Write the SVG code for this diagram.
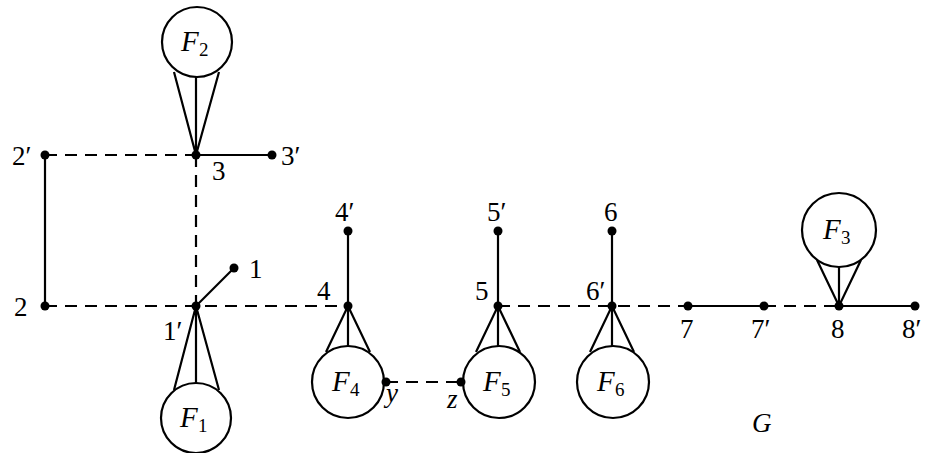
<svg xmlns="http://www.w3.org/2000/svg" width="928" height="453" viewBox="0 0 928 453">
<style>
.e{stroke:#000;stroke-width:2.2;fill:none}
.d{stroke:#000;stroke-width:2.2;fill:none;stroke-dasharray:12 8}
.v{fill:#000}
.i{font-style:italic}
.f{font-style:italic;font-size:29px}
.s{font-size:19px}
</style>
<rect width="928" height="453" fill="#fff"/>
<g id="connectors">
<line class="d" x1="45" y1="155" x2="196" y2="155"/>
<line class="e" x1="196" y1="155" x2="272" y2="155"/>
<line class="d" x1="196" y1="155" x2="196" y2="306"/>
<line class="e" x1="45" y1="155" x2="45" y2="306"/>
<line class="d" x1="45" y1="306" x2="348" y2="306"/>
<line class="e" x1="196" y1="306" x2="234" y2="268"/>
<line class="e" x1="348" y1="306" x2="348" y2="231"/>
<line class="e" x1="498" y1="306" x2="498" y2="231"/>
<line class="e" x1="612" y1="306" x2="612" y2="231"/>
<line class="d" x1="498" y1="306" x2="688" y2="306"/>
<line class="e" x1="688" y1="306" x2="764" y2="306"/>
<line class="d" x1="764" y1="306" x2="839" y2="306"/>
<line class="e" x1="839" y1="306" x2="915" y2="306"/>
<line class="d" x1="386" y1="382" x2="461" y2="382"/>
<path class="e" d="M174 72L196 155L219 72M196 77L196 155"/>
<path class="e" d="M174 390L196 306L219 390M196 384L196 306"/>
<path class="e" d="M326 352L348 306L370 352M348 346L348 306"/>
<path class="e" d="M476 352L498 306L520 352M498 346L498 306"/>
<path class="e" d="M590 352L612 306L634 352M612 346L612 306"/>
<path class="e" d="M817 260L839 306L861 260M839 267L839 306"/>
</g>
<g font-family="Liberation Serif, DejaVu Serif, serif" font-size="27px" fill="#000">
<g id="F2"><circle class="e" cx="197" cy="42" r="35"/><text class="f" x="181" y="51">F</text><text class="s" x="199" y="56">2</text></g>
<g id="F1"><circle class="e" cx="196" cy="418" r="35"/><text class="f" x="180" y="427">F</text><text class="s" x="198" y="432">1</text></g>
<g id="F4"><circle class="e" cx="348" cy="382" r="36"/><text class="f" x="332" y="391">F</text><text class="s" x="350" y="396">4</text></g>
<g id="F5"><circle class="e" cx="499" cy="382" r="36"/><text class="f" x="483" y="391">F</text><text class="s" x="501" y="396">5</text></g>
<g id="F6"><circle class="e" cx="613" cy="382" r="36"/><text class="f" x="597" y="391">F</text><text class="s" x="615" y="396">6</text></g>
<g id="F3"><circle class="e" cx="839" cy="230" r="37"/><text class="f" x="823" y="239">F</text><text class="s" x="841" y="244">3</text></g>
<g id="n2p"><circle class="v" cx="45" cy="155" r="4.5"/><text x="12" y="165">2′</text></g>
<g id="n3"><circle class="v" cx="196" cy="155" r="4.5"/><text x="212" y="180">3</text></g>
<g id="n3p"><circle class="v" cx="272" cy="155" r="4.5"/><text x="281" y="165">3′</text></g>
<g id="n1"><circle class="v" cx="234" cy="268" r="4.5"/><text x="249" y="278">1</text></g>
<g id="n2"><circle class="v" cx="45" cy="306" r="4.5"/><text x="14" y="316">2</text></g>
<g id="n1p"><circle class="v" cx="196" cy="306" r="4.5"/><text x="163" y="340">1′</text></g>
<g id="n4p"><circle class="v" cx="348" cy="231" r="4.5"/><text x="335" y="221">4′</text></g>
<g id="n4"><circle class="v" cx="348" cy="306" r="4.5"/><text x="317" y="300">4</text></g>
<g id="n5p"><circle class="v" cx="498" cy="231" r="4.5"/><text x="487" y="221">5′</text></g>
<g id="n5"><circle class="v" cx="498" cy="306" r="4.5"/><text x="475" y="300">5</text></g>
<g id="n6"><circle class="v" cx="612" cy="231" r="4.5"/><text x="604" y="221">6</text></g>
<g id="n6p"><circle class="v" cx="612" cy="306" r="4.5"/><text x="586" y="300">6′</text></g>
<g id="n7"><circle class="v" cx="688" cy="306" r="4.5"/><text x="680" y="338">7</text></g>
<g id="n7p"><circle class="v" cx="764" cy="306" r="4.5"/><text x="751" y="338">7′</text></g>
<g id="n8"><circle class="v" cx="839" cy="306" r="4.5"/><text x="831" y="338">8</text></g>
<g id="n8p"><circle class="v" cx="915" cy="306" r="4.5"/><text x="902" y="338">8′</text></g>
<g id="ny"><circle class="v" cx="386" cy="382" r="4.5"/><text class="i" x="386" y="402">y</text></g>
<g id="nz"><circle class="v" cx="461" cy="382" r="4.5"/><text class="i" x="447" y="408">z</text></g>
<text class="i" x="752" y="432">G</text>
</g>
</svg>
